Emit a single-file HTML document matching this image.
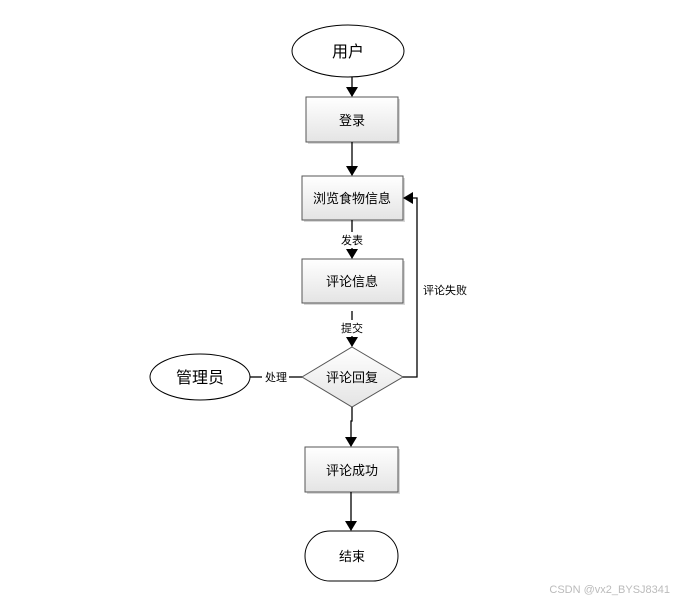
<!DOCTYPE html>
<html><head><meta charset="utf-8"><style>
html,body{margin:0;padding:0;background:#fff;width:683px;height:602px;overflow:hidden}
svg text{font-family:"Liberation Sans","Noto Sans CJK SC",sans-serif;fill:#000}
</style></head><body>
<svg width="683" height="602" viewBox="0 0 683 602" xmlns="http://www.w3.org/2000/svg">
<defs>
<linearGradient id="g" x1="0" y1="0" x2="0" y2="1"><stop offset="0" stop-color="#ffffff"/><stop offset="1" stop-color="#e4e4e4"/></linearGradient>
<marker id="a" markerWidth="10" markerHeight="12" refX="9" refY="6" orient="auto" markerUnits="userSpaceOnUse"><path d="M0,0 L10,6 L0,12 z" fill="#000"/></marker>
</defs>
<g fill="#d8d8d8">
<rect x="308" y="99" width="92" height="45"/>
<rect x="304" y="178" width="101" height="44"/>
<rect x="304" y="261" width="101" height="44"/>
<rect x="307" y="449" width="93" height="45"/>
</g>
<ellipse cx="348" cy="51" rx="56" ry="26" fill="#fff" stroke="#000" stroke-width="1"/>
<text x="348" y="57" font-size="16" text-anchor="middle">用户</text>
<rect x="306" y="97" width="92" height="45" fill="url(#g)" stroke="#555"/>
<text x="352" y="125" font-size="13" text-anchor="middle">登录</text>
<rect x="302" y="176" width="101" height="44" fill="url(#g)" stroke="#555"/>
<text x="352" y="203" font-size="13" text-anchor="middle">浏览食物信息</text>
<rect x="302" y="259" width="101" height="44" fill="url(#g)" stroke="#555"/>
<text x="352" y="286" font-size="13" text-anchor="middle">评论信息</text>
<polygon points="352,347 403,377 352,407 302,377" fill="url(#g)" stroke="#555"/>
<text x="352" y="382" font-size="13" text-anchor="middle">评论回复</text>
<rect x="305" y="447" width="93" height="45" fill="url(#g)" stroke="#555"/>
<text x="352" y="475" font-size="13" text-anchor="middle">评论成功</text>
<rect x="305" y="531" width="93" height="50" rx="25" fill="#fff" stroke="#000"/>
<text x="352" y="561" font-size="13" text-anchor="middle">结束</text>
<ellipse cx="200" cy="377" rx="50" ry="23" fill="#fff" stroke="#000"/>
<text x="200" y="383" font-size="16" text-anchor="middle">管理员</text>
<g stroke="#000" stroke-width="1.3" fill="none">
<line x1="352" y1="77" x2="352" y2="96" marker-end="url(#a)"/>
<line x1="352" y1="142" x2="352" y2="175" marker-end="url(#a)"/>
<line x1="352" y1="220" x2="352" y2="232"/>
<line x1="352" y1="248" x2="352" y2="258" marker-end="url(#a)"/>
<line x1="352" y1="311" x2="352" y2="320"/>
<line x1="352" y1="336" x2="352" y2="346" marker-end="url(#a)"/>
<polyline points="352,407 352,421 351,421 351,446" marker-end="url(#a)"/>
<line x1="351" y1="492" x2="351" y2="530" marker-end="url(#a)"/>
<polyline points="403,377 417,377 417,198 404,198" marker-end="url(#a)"/>
<line x1="250" y1="377" x2="262" y2="377"/>
<line x1="289" y1="377" x2="302" y2="377"/>
</g>
<text x="352" y="244" font-size="11" text-anchor="middle">发表</text>
<text x="352" y="332" font-size="11" text-anchor="middle">提交</text>
<text x="276" y="381" font-size="11" text-anchor="middle">处理</text>
<text x="445" y="294" font-size="11" text-anchor="middle">评论失败</text>
<text x="670" y="593" font-size="11" text-anchor="end" style="fill:#bbb">CSDN @vx2_BYSJ8341</text>
</svg>
</body></html>
